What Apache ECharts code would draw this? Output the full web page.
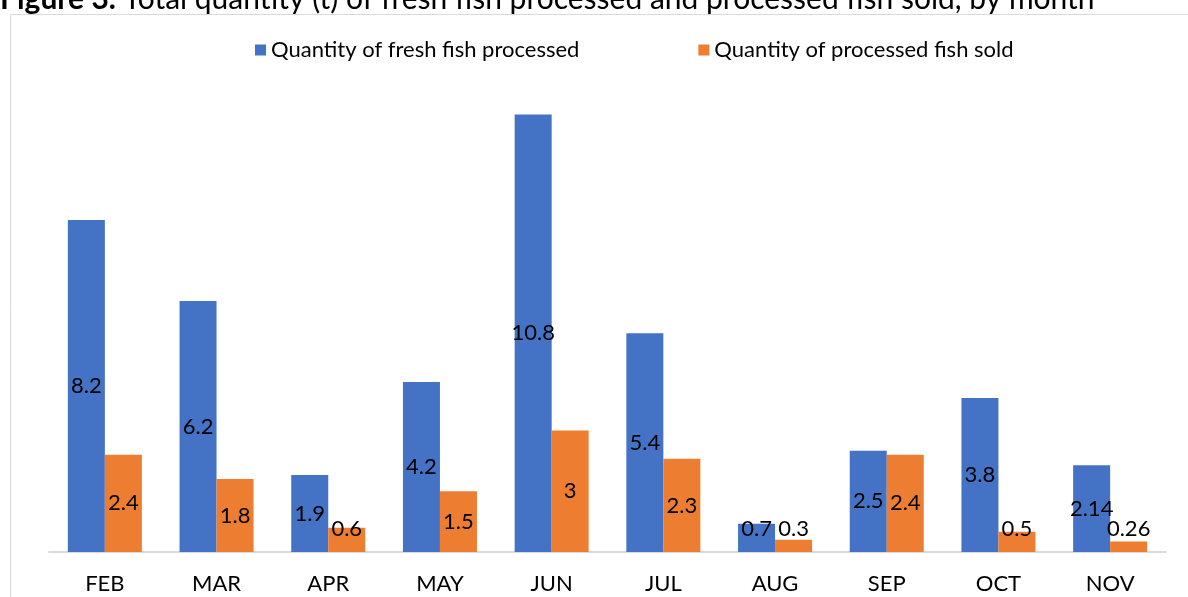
<!DOCTYPE html>
<html>
<head>
<meta charset="utf-8">
<title>Figure 3</title>
<script src="https://cdn.jsdelivr.net/npm/echarts@6/dist/echarts.min.js"></script>
<style>
    html, body { margin: 0; padding: 0; background: #fff; }
    #chart { width: 1188px; height: 597px; }
</style>
</head>
<body>
<div id="chart"></div>
<script>
var months = ['FEB', 'MAR', 'APR', 'MAY', 'JUN', 'JUL', 'AUG', 'SEP', 'OCT', 'NOV'];
var freshProcessed = [8.2, 6.2, 1.9, 4.2, 10.8, 5.4, 0.7, 2.5, 3.8, 2.14];
var processedSold = [2.4, 1.8, 0.6, 1.5, 3, 2.3, 0.3, 2.4, 0.5, 0.26];
var seriesNames = ['Quantity of fresh fish processed', 'Quantity of processed fish sold'];

var font = 'Lato, "Open Sans", sans-serif';

// short bars: excel pushes the label up so it stays above the axis
function barData(values) {
    return values.map(function (v) {
        if (v < 1) {
            return { value: v, label: { position: 'insideBottom', distance: 12 } };
        }
        return v;
    });
}

var myChart = echarts.init(document.getElementById('chart'));
myChart.setOption({
    animation: false,
    color: ['#4472C4', '#ED7D31'],
    graphic: [
        {
            type: 'rect',
            shape: { x: 10.5, y: 14.5, width: 1200, height: 700 },
            style: { fill: 'none', stroke: '#D9D9D9', lineWidth: 1 },
            silent: true
        },
        {
            type: 'text',
            x: 0,
            y: 14,
            style: {
                text: '{b|Figure 3.} Total quantity (t) of fresh fish processed and processed fish sold, by month',
                verticalAlign: 'bottom',
                fontFamily: font,
                fontSize: 30,
                fill: '#000',
                rich: {
                    b: { fontWeight: 'bold', fontFamily: font, fontSize: 30, fill: '#000' }
                }
            },
            silent: true
        }
    ],
    legend: {
        top: 34,
        left: 250,
        icon: 'rect',
        itemWidth: 11,
        itemHeight: 11,
        itemGap: 119,
        textStyle: { fontFamily: font, fontSize: 22, color: '#000' },
        data: seriesNames
    },
    grid: {
        left: 49,
        right: 22,
        top: 66,
        bottom: 45
    },
    xAxis: {
        type: 'category',
        data: months,
        axisLine: { lineStyle: { color: '#D9D9D9', width: 2 } },
        axisTick: { show: false },
        axisLabel: { fontFamily: font, fontSize: 22, color: '#000', margin: 21 }
    },
    yAxis: {
        type: 'value',
        min: 0,
        max: 12,
        show: false,
        splitLine: { show: false }
    },
    series: [
        {
            name: seriesNames[0],
            type: 'bar',
            barWidth: 37,
            barGap: '0%',
            data: barData(freshProcessed),
            label: { show: true, position: 'inside', color: '#000', fontFamily: font, fontSize: 22 }
        },
        {
            name: seriesNames[1],
            type: 'bar',
            barWidth: 37,
            data: barData(processedSold),
            label: { show: true, position: 'inside', color: '#000', fontFamily: font, fontSize: 22 }
        }
    ]
});
</script>
</body>
</html>
